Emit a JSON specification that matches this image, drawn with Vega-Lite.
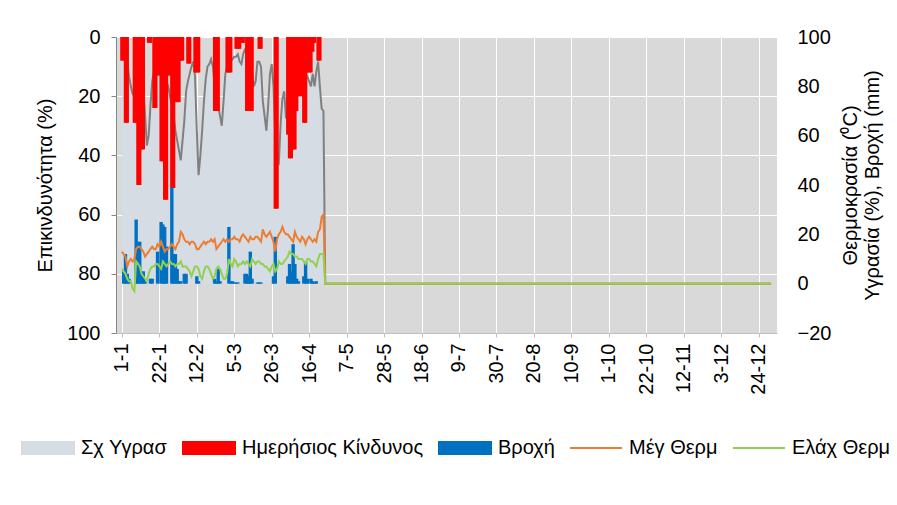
{
  "$schema": "https://vega.github.io/schema/vega-lite/v6.json",
  "width": 661,
  "height": 296,
  "autosize": {"type": "none"},
  "padding": {"left": 116, "top": 37, "right": 120, "bottom": 172},
  "background": "white",
  "config": {
    "view": {"fill": "#D9D9D9", "stroke": null},
    "font": "Liberation Sans",
    "axis": {"labelFont": "Liberation Sans", "titleFont": "Liberation Sans", "labelFontSize": 20, "titleFontSize": 20, "titleFontWeight": "normal", "labelColor": "#000000", "titleColor": "#000000"}
  },
  "data": {"values": [
    {"day":1,"hum":100,"risk":8,"rain":0,"tmax":13,"tmin":6},
    {"day":2,"hum":98,"risk":8,"rain":5,"tmax":12,"tmin":5},
    {"day":3,"hum":96,"risk":29,"rain":12,"tmax":11,"tmin":4},
    {"day":4,"hum":90,"risk":29,"rain":4,"tmax":7,"tmin":2},
    {"day":5,"hum":84,"risk":0,"rain":2,"tmax":9,"tmin":1},
    {"day":6,"hum":80,"risk":0,"rain":0,"tmax":10,"tmin":1},
    {"day":7,"hum":77,"risk":0,"rain":0,"tmax":9,"tmin":-2},
    {"day":8,"hum":76,"risk":29,"rain":0,"tmax":10,"tmin":-3},
    {"day":9,"hum":80,"risk":29,"rain":26,"tmax":14,"tmin":9},
    {"day":10,"hum":85,"risk":50,"rain":17,"tmax":15,"tmin":8},
    {"day":11,"hum":88,"risk":50,"rain":17,"tmax":15,"tmin":7},
    {"day":12,"hum":85,"risk":38,"rain":5,"tmax":14,"tmin":4},
    {"day":13,"hum":80,"risk":38,"rain":5,"tmax":13,"tmin":3},
    {"day":14,"hum":68,"risk":0,"rain":1,"tmax":11,"tmin":2},
    {"day":15,"hum":56,"risk":0,"rain":0,"tmax":12,"tmin":1},
    {"day":16,"hum":60,"risk":2,"rain":0,"tmax":13,"tmin":4},
    {"day":17,"hum":72,"risk":2,"rain":2,"tmax":14,"tmin":6},
    {"day":18,"hum":82,"risk":0,"rain":2,"tmax":15,"tmin":7},
    {"day":19,"hum":86,"risk":24,"rain":0,"tmax":14,"tmin":7},
    {"day":20,"hum":88,"risk":24,"rain":0,"tmax":14,"tmin":8},
    {"day":21,"hum":90,"risk":13,"rain":13,"tmax":16,"tmin":8},
    {"day":22,"hum":92,"risk":13,"rain":0,"tmax":15,"tmin":7},
    {"day":23,"hum":90,"risk":42,"rain":25,"tmax":17,"tmin":6},
    {"day":24,"hum":88,"risk":42,"rain":24,"tmax":15,"tmin":9},
    {"day":25,"hum":85,"risk":55,"rain":23,"tmax":13,"tmin":8},
    {"day":26,"hum":82,"risk":55,"rain":15,"tmax":14,"tmin":7},
    {"day":27,"hum":80,"risk":13,"rain":0,"tmax":14,"tmin":8},
    {"day":28,"hum":76,"risk":13,"rain":0,"tmax":15,"tmin":9},
    {"day":29,"hum":72,"risk":51,"rain":39,"tmax":16,"tmin":8},
    {"day":30,"hum":68,"risk":51,"rain":12,"tmax":15,"tmin":8},
    {"day":31,"hum":62,"risk":22,"rain":12,"tmax":14,"tmin":7},
    {"day":32,"hum":58,"risk":22,"rain":6,"tmax":16,"tmin":8},
    {"day":33,"hum":54,"risk":22,"rain":1,"tmax":17,"tmin":8},
    {"day":34,"hum":50,"risk":8,"rain":1,"tmax":21,"tmin":9},
    {"day":35,"hum":58,"risk":8,"rain":0,"tmax":20,"tmin":7},
    {"day":36,"hum":66,"risk":0,"rain":4,"tmax":18,"tmin":7},
    {"day":37,"hum":78,"risk":0,"rain":4,"tmax":17,"tmin":7},
    {"day":38,"hum":82,"risk":9,"rain":0,"tmax":17,"tmin":6},
    {"day":39,"hum":85,"risk":9,"rain":0,"tmax":16,"tmin":5},
    {"day":40,"hum":88,"risk":0,"rain":0,"tmax":17,"tmin":3},
    {"day":41,"hum":90,"risk":0,"rain":0,"tmax":17,"tmin":5},
    {"day":42,"hum":84,"risk":12,"rain":0,"tmax":16,"tmin":7},
    {"day":43,"hum":62,"risk":12,"rain":3,"tmax":14,"tmin":7},
    {"day":44,"hum":44,"risk":12,"rain":1,"tmax":14,"tmin":6},
    {"day":45,"hum":52,"risk":0,"rain":0,"tmax":15,"tmin":3},
    {"day":46,"hum":62,"risk":0,"rain":0,"tmax":16,"tmin":2},
    {"day":47,"hum":74,"risk":0,"rain":0,"tmax":17,"tmin":5},
    {"day":48,"hum":83,"risk":0,"rain":0,"tmax":16,"tmin":7},
    {"day":49,"hum":88,"risk":0,"rain":0,"tmax":17,"tmin":7},
    {"day":50,"hum":89,"risk":0,"rain":0,"tmax":17,"tmin":6},
    {"day":51,"hum":91,"risk":0,"rain":0,"tmax":18,"tmin":4},
    {"day":52,"hum":88,"risk":0,"rain":0,"tmax":17,"tmin":2},
    {"day":53,"hum":80,"risk":25,"rain":2,"tmax":18,"tmin":3},
    {"day":54,"hum":74,"risk":25,"rain":1,"tmax":14,"tmin":6},
    {"day":55,"hum":72,"risk":25,"rain":6,"tmax":15,"tmin":7},
    {"day":56,"hum":68,"risk":0,"rain":1,"tmax":16,"tmin":6},
    {"day":57,"hum":64,"risk":0,"rain":0,"tmax":17,"tmin":4},
    {"day":58,"hum":74,"risk":0,"rain":0,"tmax":18,"tmin":2},
    {"day":59,"hum":85,"risk":0,"rain":0,"tmax":17,"tmin":2},
    {"day":60,"hum":88,"risk":12,"rain":0,"tmax":18,"tmin":4},
    {"day":61,"hum":90,"risk":12,"rain":23,"tmax":17,"tmin":10},
    {"day":62,"hum":90,"risk":12,"rain":1,"tmax":18,"tmin":8},
    {"day":63,"hum":91,"risk":0,"rain":1,"tmax":18,"tmin":7},
    {"day":64,"hum":92,"risk":0,"rain":0.5,"tmax":19,"tmin":10},
    {"day":65,"hum":92,"risk":4,"rain":0.5,"tmax":18,"tmin":9},
    {"day":66,"hum":93,"risk":4,"rain":0.5,"tmax":18,"tmin":7},
    {"day":67,"hum":90,"risk":4,"rain":0,"tmax":17,"tmin":8},
    {"day":68,"hum":89,"risk":2,"rain":0,"tmax":19,"tmin":8},
    {"day":69,"hum":93,"risk":2,"rain":0,"tmax":20,"tmin":9},
    {"day":70,"hum":95,"risk":0,"rain":4,"tmax":19,"tmin":8},
    {"day":71,"hum":95,"risk":25,"rain":4,"tmax":18,"tmin":9},
    {"day":72,"hum":94,"risk":25,"rain":3,"tmax":17,"tmin":8},
    {"day":73,"hum":90,"risk":25,"rain":13,"tmax":19,"tmin":7},
    {"day":74,"hum":85,"risk":25,"rain":2,"tmax":18,"tmin":10},
    {"day":75,"hum":80,"risk":0,"rain":0,"tmax":18,"tmin":9},
    {"day":76,"hum":82,"risk":0,"rain":0,"tmax":19,"tmin":8},
    {"day":77,"hum":90,"risk":0,"rain":0.5,"tmax":19,"tmin":9},
    {"day":78,"hum":90,"risk":4,"rain":0.5,"tmax":18,"tmin":9},
    {"day":79,"hum":88,"risk":4,"rain":0.5,"tmax":17,"tmin":8},
    {"day":80,"hum":74,"risk":0,"rain":0,"tmax":22,"tmin":8},
    {"day":81,"hum":68,"risk":0,"rain":0,"tmax":20,"tmin":7},
    {"day":82,"hum":62,"risk":0,"rain":0,"tmax":19,"tmin":7},
    {"day":83,"hum":72,"risk":0,"rain":0,"tmax":20,"tmin":6},
    {"day":84,"hum":85,"risk":0,"rain":0,"tmax":21,"tmin":5},
    {"day":85,"hum":89,"risk":0,"rain":0,"tmax":19,"tmin":7},
    {"day":86,"hum":80,"risk":0,"rain":3,"tmax":17,"tmin":8},
    {"day":87,"hum":60,"risk":58,"rain":19,"tmax":13,"tmin":5},
    {"day":88,"hum":50,"risk":58,"rain":0,"tmax":18,"tmin":6},
    {"day":89,"hum":49,"risk":0,"rain":0,"tmax":20,"tmin":9},
    {"day":90,"hum":65,"risk":0,"rain":0,"tmax":21,"tmin":8},
    {"day":91,"hum":75,"risk":0,"rain":0,"tmax":23,"tmin":8},
    {"day":92,"hum":78,"risk":0,"rain":0,"tmax":21,"tmin":9},
    {"day":93,"hum":67,"risk":0,"rain":0,"tmax":20,"tmin":10},
    {"day":94,"hum":70,"risk":33,"rain":3,"tmax":20,"tmin":11},
    {"day":95,"hum":80,"risk":41,"rain":8,"tmax":19,"tmin":13},
    {"day":96,"hum":85,"risk":41,"rain":5,"tmax":18,"tmin":12},
    {"day":97,"hum":88,"risk":38,"rain":16,"tmax":17,"tmin":12},
    {"day":98,"hum":89,"risk":38,"rain":8,"tmax":21,"tmin":11},
    {"day":99,"hum":89,"risk":25,"rain":2,"tmax":19,"tmin":11},
    {"day":100,"hum":90,"risk":20,"rain":1,"tmax":18,"tmin":10},
    {"day":101,"hum":90,"risk":20,"rain":0,"tmax":17,"tmin":10},
    {"day":102,"hum":88,"risk":20,"rain":0,"tmax":19,"tmin":10},
    {"day":103,"hum":86,"risk":29,"rain":3,"tmax":18,"tmin":9},
    {"day":104,"hum":85,"risk":29,"rain":9,"tmax":16,"tmin":8},
    {"day":105,"hum":84,"risk":12,"rain":2,"tmax":18,"tmin":10},
    {"day":106,"hum":82,"risk":12,"rain":0,"tmax":19,"tmin":10},
    {"day":107,"hum":80,"risk":12,"rain":2,"tmax":18,"tmin":9},
    {"day":108,"hum":85,"risk":5,"rain":1,"tmax":17,"tmin":9},
    {"day":109,"hum":80,"risk":2,"rain":0.5,"tmax":18,"tmin":8},
    {"day":110,"hum":86,"risk":0,"rain":1,"tmax":17,"tmin":7},
    {"day":111,"hum":90,"risk":8,"rain":0,"tmax":21,"tmin":10},
    {"day":112,"hum":80,"risk":8,"rain":0,"tmax":22,"tmin":12},
    {"day":113,"hum":71,"risk":0,"rain":0,"tmax":27,"tmin":12},
    {"day":114,"hum":70,"risk":0,"rain":0,"tmax":28,"tmin":12},
    {"day":115,"hum":0,"risk":0,"rain":0,"tmax":0,"tmin":0},
    {"day":365,"hum":0,"risk":0,"rain":0,"tmax":0,"tmin":0}
  ]},
  "encoding": {
    "x": {
      "field": "day", "type": "quantitative",
      "scale": {"domain": [0.5, 365.5], "nice": false, "zero": false},
      "axis": {
        "values": [1, 22, 43, 64, 85, 106, 127, 148, 169, 190, 211, 232, 253, 274, 295, 316, 337, 358],
        "labelExpr": "utcFormat(utc(2021, 0, datum.value), '%-d-%-m')",
        "labelAngle": -90, "labelAlign": "right", "labelBaseline": "middle",
        "labelPadding": 6, "labelFlush": false, "labelOverlap": false, "labelBound": false,
        "grid": true, "gridColor": "#FFFFFF", "gridWidth": 1,
        "domainColor": "#BFBFBF", "tickColor": "#BFBFBF", "tickSize": 4,
        "title": null
      }
    }
  },
  "layer": [
    {
      "mark": {"type": "area", "interpolate": "linear"},
      "encoding": {
        "y": {
          "field": "hum", "type": "quantitative",
          "scale": {"domain": [-20, 100], "nice": false, "zero": true},
          "axis": {
            "orient": "right", "values": [-20, 0, 20, 40, 60, 80, 100],
            "title": ["Θερμοκρασία (⁰C)", "Υγρασία (%), Βροχή (mm)"],
            "grid": false, "domain": false, "ticks": false,
            "labelPadding": 20, "labelAlign": "left",
            "titleAngle": -90, "titleX": 73, "titleY": 148,
            "titleBaseline": "middle", "titleAlign": "center", "titleLineHeight": 22
          }
        },
        "color": {
          "datum": "Σχ Υγρασ", "type": "nominal",
          "scale": {"domain": ["Σχ Υγρασ", "Ημερήσιος Κίνδυνος", "Βροχή", "Μέγ Θερμ", "Ελάχ Θερμ"], "range": ["#D6DCE4", "#FF0000", "#0070C0", "#ED7D31", "#92D050"]},
          "legend": {
            "orient": "none", "legendX": -95, "legendY": 384, "direction": "horizontal",
            "title": null, "symbolSize": 2704, "symbolStrokeWidth": 2, "labelFontSize": 20, "labelFont": "Liberation Sans",
            "labelColor": "#000000", "labelOffset": 6, "columnPadding": 11, "padding": 0, "labelLimit": 0,
            "encode": {
              "symbols": {
                "update": {
                  "shape": {"signal": "(datum.value === 'Μέγ Θερμ' || datum.value === 'Ελάχ Θερμ') ? 'M-1,0H1' : 'M-1,-0.23H1V0.23H-1Z'"},
                  "fill": {"signal": "datum.value === 'Σχ Υγρασ' ? '#D6DCE4' : datum.value === 'Ημερήσιος Κίνδυνος' ? '#FF0000' : datum.value === 'Βροχή' ? '#0070C0' : 'transparent'"},
                  "stroke": {"signal": "datum.value === 'Σχ Υγρασ' ? '#7F7F7F' : datum.value === 'Ημερήσιος Κίνδυνος' ? '#FF0000' : datum.value === 'Βροχή' ? '#0070C0' : datum.value === 'Μέγ Θερμ' ? '#ED7D31' : '#92D050'"},
                  "opacity": {"value": 1}
                }
              }
            }
          }
        }
      }
    },
    {
      "mark": {"type": "line", "color": "#808080", "strokeWidth": 2},
      "encoding": {
        "y": {"field": "hum", "type": "quantitative", "scale": {"domain": [-20, 100], "nice": false}, "axis": null}
      }
    },
    {
      "mark": {"type": "bar", "size": 3.4},
      "encoding": {
        "y": {
          "field": "risk", "type": "quantitative",
          "scale": {"domain": [0, 100], "reverse": true, "nice": false},
          "axis": {
            "orient": "left", "values": [0, 20, 40, 60, 80, 100],
            "title": "Επικινδυνότητα (%)",
            "grid": true, "gridColor": "#FFFFFF", "gridWidth": 1,
            "domainColor": "#868686", "tickColor": "#868686", "tickSize": 5, "labelPadding": 11,
            "titleAngle": -90, "titleX": -71, "titleY": 148, "titleBaseline": "middle", "titleAlign": "center"
          }
        },
        "color": {"datum": "Ημερήσιος Κίνδυνος", "type": "nominal", "scale": {"domain": ["Σχ Υγρασ", "Ημερήσιος Κίνδυνος", "Βροχή", "Μέγ Θερμ", "Ελάχ Θερμ"], "range": ["#D6DCE4", "#FF0000", "#0070C0", "#ED7D31", "#92D050"]}}
      }
    },
    {
      "mark": {"type": "bar", "size": 3.4},
      "encoding": {
        "y": {"field": "rain", "type": "quantitative", "scale": {"domain": [-20, 100], "nice": false}, "axis": null},
        "color": {"datum": "Βροχή", "type": "nominal", "scale": {"domain": ["Σχ Υγρασ", "Ημερήσιος Κίνδυνος", "Βροχή", "Μέγ Θερμ", "Ελάχ Θερμ"], "range": ["#D6DCE4", "#FF0000", "#0070C0", "#ED7D31", "#92D050"]}}
      }
    },
    {
      "mark": {"type": "line", "strokeWidth": 2},
      "encoding": {
        "y": {"field": "tmax", "type": "quantitative", "scale": {"domain": [-20, 100], "nice": false}, "axis": null},
        "color": {"datum": "Μέγ Θερμ", "type": "nominal", "scale": {"domain": ["Σχ Υγρασ", "Ημερήσιος Κίνδυνος", "Βροχή", "Μέγ Θερμ", "Ελάχ Θερμ"], "range": ["#D6DCE4", "#FF0000", "#0070C0", "#ED7D31", "#92D050"]}}
      }
    },
    {
      "mark": {"type": "line", "strokeWidth": 2},
      "encoding": {
        "y": {"field": "tmin", "type": "quantitative", "scale": {"domain": [-20, 100], "nice": false}, "axis": null},
        "color": {"datum": "Ελάχ Θερμ", "type": "nominal", "scale": {"domain": ["Σχ Υγρασ", "Ημερήσιος Κίνδυνος", "Βροχή", "Μέγ Θερμ", "Ελάχ Θερμ"], "range": ["#D6DCE4", "#FF0000", "#0070C0", "#ED7D31", "#92D050"]}}
      }
    }
  ],
  "resolve": {"scale": {"y": "independent"}}
}
